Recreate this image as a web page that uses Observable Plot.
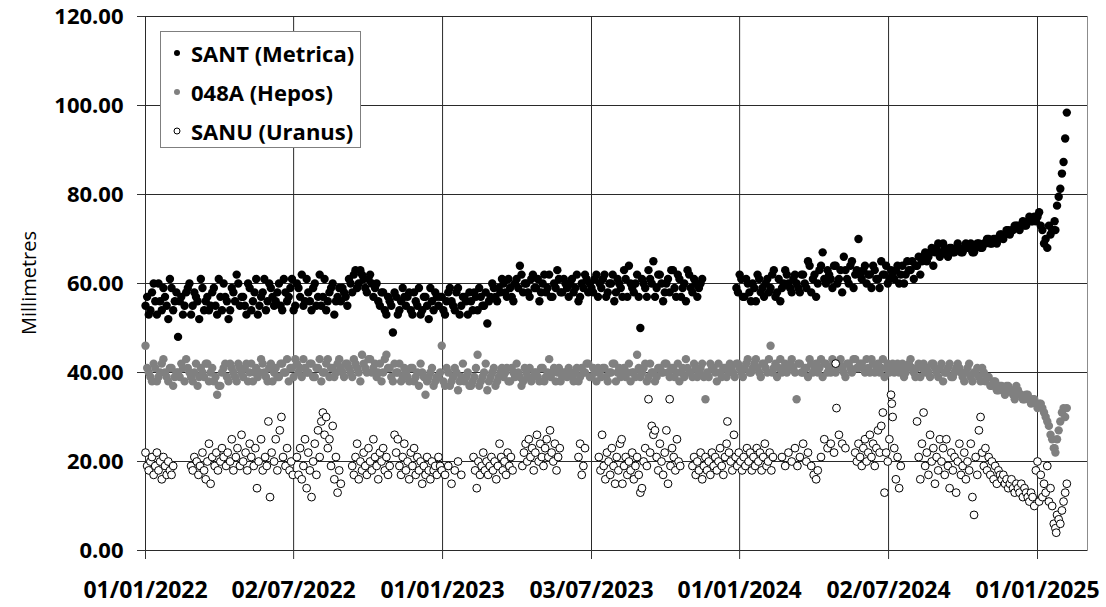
<!DOCTYPE html>
<html>
<head>
<meta charset="utf-8">
<script src="https://cdn.jsdelivr.net/npm/d3@7"></script>
<script src="https://cdn.jsdelivr.net/npm/@observablehq/plot@0.6"></script>
<style>
  html, body { margin: 0; padding: 0; background: #fff; }
  #wrap { position: relative; width: 1106px; height: 607px; font-family: 'Open Sans', sans-serif; }
  #ytitle { position: absolute; left: 28px; top: 283px; transform: translate(-50%, -50%) rotate(-90deg); font-size: 20px; white-space: nowrap; color: #000; }
  #legend { position: absolute; left: 160px; top: 31px; width: 201px; height: 117px; border: 1px solid #7f7f7f; background: #fff; box-sizing: border-box; }
  .lg { position: absolute; left: 0; height: 30px; display: flex; align-items: center; font-weight: bold; font-size: 22px; color: #000; white-space: nowrap; }
  .lg svg { margin-left: 10px; margin-right: 8px; }
</style>
</head>
<body>
<div id="wrap">
  <div id="chart"></div>
  <div id="ytitle">Millimetres</div>
  <div id="legend"></div>
</div>
<script>
// Day offsets from 01/01/2022 (first set of readings) shared by SANT and 048A
const days = [
  0,4,8,12,16,20,24,28,32,36,
  40,44,48,52,56,60,64,68,72,76,
  80,84,88,92,96,100,104,108,112,116,
  120,124,128,132,136,140,144,148,152,156,
  160,164,168,172,176,180,184,188,192,196,
  200,204,208,212,216,220,224,228,232,236,
  240,244,248,252,256,260,264,268,272,276,
  280,284,288,292,296,300,304,308,312,316,
  320,324,328,332,336,340,344,348,352,356,
  360,364,368,372,376,380,384,388,392,396,
  400,404,408,412,416,420,424,428,432,436,
  440,444,448,452,456,460,464,468,472,476,
  480,484,488,492,496,500,504,508,512,516,
  520,524,528,532,536,540,544,548,552,556,
  560,564,568,572,576,580,584,588,592,596,
  600,604,608,612,616,620,624,628,632,636,
  640,644,648,652,656,660,664,668,672,676,
  680,684,688,692,696,700,704,708,712,716,
  720,724,728,732,736,740,744,748,752,756,
  760,764,768,772,776,780,784,788,792,796,
  800,804,808,812,816,820,824,828,832,836,
  840,844,848,852,856,860,864,868,872,876,
  880,884,888,892,896,900,904,908,912,916,
  920,924,928,932,936,940,944,948,952,956,
  960,964,968,972,976,980,984,988,992,996,
  1000,1004,1008,1012,1016,1020,1024,1028,1032,1036,
  1040,1044,1048,1052,1056,1060,1064,1068,1072,1076,
  1080,1084,1088,1092,1096,1100,1104,1108,1112,1116,
  1118,1120,1122,1124,1126,1128,1130,1132
];

// Second set of reading days, in between the first set
const days2 = [
  2,6,10,14,18,22,26,30,34,38,
  42,46,50,54,58,62,66,70,74,78,
  82,86,90,94,98,102,106,110,114,118,
  122,126,130,134,138,142,146,150,154,158,
  162,166,170,174,178,182,186,190,194,198,
  202,206,210,214,218,222,226,230,234,238,
  242,246,250,254,258,262,266,270,274,278,
  282,286,290,294,298,302,306,310,314,318,
  322,326,330,334,338,342,346,350,354,358,
  362,366,370,374,378,382,386,390,394,398,
  402,406,410,414,418,422,426,430,434,438,
  442,446,450,454,458,462,466,470,474,478,
  482,486,490,494,498,502,506,510,514,518,
  522,526,530,534,538,542,546,550,554,558,
  562,566,570,574,578,582,586,590,594,598,
  602,606,610,614,618,622,626,630,634,638,
  642,646,650,654,658,662,666,670,674,678,
  682,686,690,694,698,702,706,710,714,718,
  722,726,730,734,738,742,746,750,754,758,
  762,766,770,774,778,782,786,790,794,798,
  802,806,810,814,818,822,826,830,834,838,
  842,846,850,854,858,862,866,870,874,878,
  882,886,890,894,898,902,906,910,914,918,
  922,926,930,934,938,942,946,950,954,958,
  962,966,970,974,978,982,986,990,994,998,
  1002,1006,1010,1014,1018,1022,1026,1030,1034,1038,
  1042,1046,1050,1054,1058,1062,1066,1070,1074,1078,
  1082,1086,1090,1094,1098,1102,1106,1110,1114,1117
];

// SANT (Metrica), millimetres, on `days`
const santValues = [
  55,53,58,56,60,54,57,52,59,56,
  48,57,55,59,53,58,56,61,54,57,
  55,59,53,57,60,56,54,58,62,55,
  57,53,59,56,61,55,58,54,60,57,
  56,60,54,58,57,61,55,59,62,56,
  58,54,60,57,55,61,56,59,53,57,
  56,58,55,60,62,59,63,61,58,62,
  57,60,55,58,53,56,49,57,54,59,
  55,58,53,56,59,54,57,52,56,58,
  55,57,53,58,56,54,59,55,57,53,
  56,58,54,57,55,51,57,59,56,58,
  60,57,59,56,61,64,58,60,57,62,
  59,56,60,58,62,57,59,61,58,60,
  57,61,59,56,60,62,58,59,61,57,
  59,62,58,60,56,61,59,63,57,60,
  58,62,50,60,57,61,65,59,62,56,
  60,58,63,57,61,59,56,62,58,60,
  59,61,null,null,null,null,null,null,null,null,
  null,null,58,61,57,60,56,59,62,58,
  57,61,59,63,58,56,60,62,59,61,
  60,58,62,59,64,61,57,63,67,60,
  62,59,64,61,58,63,60,65,62,70,
  61,64,62,59,63,61,65,62,60,63,
  61,64,62,60,65,63,61,64,62,66,
  65,67,64,68,66,69,67,68,67,68,
  68,67,69,68,67,68,69,68,69,70,
  69,70,70,71,71,72,72,73,73,73,
  73,74,74,75,75,73,69,68,71,72,
  72,77.5,79.5,81.3,84.7,87.3,92.6,98.4
];

// SANT (Metrica), millimetres, on `days2`
const santValues2 = [
  57,54,60,53,56,59,55,61,54,58,
  56,53,58,60,55,57,52,59,56,54,
  58,55,61,54,57,52,59,56,60,57,
  55,60,54,58,53,57,61,56,59,55,
  58,55,61,56,59,54,60,57,55,61,
  56,59,55,62,57,54,58,60,56,59,
  59,57,61,58,63,60,62,59,61,60,
  59,56,58,54,57,55,58,53,56,57,
  57,54,58,55,53,57,55,59,54,57,
  57,54,56,59,55,58,53,57,56,58,
  54,57,59,55,58,56,60,57,59,61,
  58,61,57,60,59,62,60,58,61,59,
  61,58,62,59,57,60,63,58,61,59,
  60,58,62,57,59,61,60,58,62,60,
  61,57,60,62,58,60,57,61,64,59,
  60,57,61,59,63,60,57,62,60,58,
  61,63,59,62,57,60,63,59,61,57,
  60,null,null,null,null,null,null,null,null,null,
  null,59,62,57,61,58,60,56,61,59,
  60,58,62,57,61,59,63,60,58,62,
  59,62,60,65,58,62,60,64,61,63,
  61,64,60,63,66,61,64,59,63,62,
  63,60,62,64,61,59,62,64,61,62,
  63,60,64,62,63,65,64,66,65,67,
  66,68,67,69,67,68,66,68,67,69,
  67,68,68,69,67,69,68,69,70,69,
  70,69,71,70,72,71,72,73,72,74,
  73,75,74,74,76,72,70,73,72,74
];

// 048A (Hepos), millimetres, on `days`
const hepValues = [
  46,40,38,41,39,42,40,38,41,39,
  40,42,38,41,39,40,37,41,39,42,
  40,38,35,37,41,39,42,40,38,41,
  39,42,40,38,41,40,42,39,41,38,
  41,39,42,40,38,41,43,40,39,41,
  40,42,39,41,38,40,43,41,39,42,
  41,39,42,40,43,41,38,42,40,43,
  41,39,42,40,44,41,38,40,42,39,
  40,38,41,39,37,40,35,39,41,38,
  39,46,37,40,38,41,36,39,38,40,
  37,39,44,38,40,36,39,41,38,40,
  39,41,38,40,42,39,38,40,41,39,
  40,38,41,39,43,40,38,41,39,40,
  41,39,40,38,41,40,42,39,40,41,
  39,41,38,40,42,40,39,41,40,38,
  40,44,39,41,38,42,40,39,41,40,
  42,39,41,40,38,41,43,40,39,41,
  40,42,34,39,41,40,42,39,41,40,
  41,39,42,40,41,43,40,42,41,39,
  42,40,46,41,39,43,41,40,42,41,
  34,42,40,41,43,40,42,41,39,42,
  41,43,40,42,41,39,42,40,43,41,
  42,40,41,43,40,42,41,39,42,41,
  40,42,41,39,41,43,40,41,39,42,
  41,39,42,40,41,38,40,42,39,41,
  41,39,40,42,38,40,39,41,38,39,
  37,38,36,37,35,37,36,34,36,35,
  34,35,33,34,32,33,31,29,26,23,
  22,25,27,29,31,32,30,32
];

// 048A (Hepos), millimetres, on `days2`
const hepValues2 = [
  41,39,42,38,40,43,39,41,37,40,
  39,41,43,40,38,42,39,40,42,38,
  41,39,37,40,42,38,41,39,42,40,
  41,38,42,40,39,43,40,38,42,40,
  39,42,40,43,41,39,42,41,43,40,
  42,39,41,43,40,42,39,41,40,43,
  40,42,41,39,42,40,44,41,43,40,
  42,40,38,43,41,39,42,40,38,41,
  39,41,38,40,42,39,38,40,37,39,
  40,38,41,37,39,40,38,42,39,37,
  38,41,37,39,42,38,40,37,39,41,
  40,38,41,39,40,37,41,39,38,40,
  39,41,38,40,39,41,40,38,40,39,
  40,38,41,39,40,42,39,41,38,40,
  41,39,40,42,38,41,40,39,42,40,
  39,41,40,42,39,40,38,41,40,42,
  40,41,39,42,40,39,41,40,42,39,
  41,39,40,42,41,38,40,41,39,42,
  40,42,41,39,42,40,41,43,40,42,
  41,43,40,42,41,40,42,41,43,40,
  42,40,41,39,42,41,40,43,42,40,
  40,42,41,43,40,42,41,43,41,42,
  41,43,40,42,41,40,43,41,40,42,
  41,40,42,40,42,41,39,42,41,40,
  40,42,41,39,42,40,41,39,40,42,
  40,38,41,39,40,41,38,40,39,37,
  38,36,37,36,37,36,35,37,35,34,
  35,34,34,33,33,32,30,28,25,23
];

// SANU (Uranus): [day offset from 01/01/2022, millimetres]
const sanuPoints = [
  [0,22],[2,19],[4,18],[6,20],[8,21],[10,17],[12,19],[14,22],[16,18],[18,20],[20,16],[22,21],[24,19],[26,17],[28,20],[30,18],[32,17],[34,19],
  [56,19],[58,18],[60,21],[63,20],[65,17],[67,19],[70,22],[72,18],[74,16],[76,20],[78,24],[80,15],[82,21],[85,19],[87,22],[89,18],[92,20],[94,23],[96,21],[99,19],[101,22],[104,20],[106,25],[108,18],[111,21],[113,23],[116,19],[118,26],[120,20],[123,22],[125,18],[128,24],[130,21],[133,19],[135,23],[137,14],[139,20],[142,25],[144,18],[147,21],[149,19],[151,29],[153,12],[155,22],[158,20],[160,25],[162,18],[165,27],[167,30],[169,21],[172,19],[174,23],[177,18],[179,20],[181,17],
  [186,21],[188,17],[190,23],[192,16],[194,19],[196,25],[198,14],[200,22],[202,18],[204,12],[206,20],[208,24],[210,17],[212,27],[214,21],[216,29],[218,31],[220,26],[222,30],[224,23],[226,25],[228,19],[230,28],[232,16],[234,21],[236,13],[238,18],[240,15],
  [254,19],[256,17],[258,21],[260,24],[262,16],[264,20],[266,18],[268,22],[270,19],[272,17],[274,23],[276,20],[278,18],[280,25],[282,21],[284,19],[286,16],[288,22],[290,20],[292,23],[294,18],[296,21],[298,17],[300,19],
  [306,26],[308,22],[310,25],[312,19],[314,17],[316,21],[318,24],[320,18],[322,20],[324,16],[326,22],[328,19],[330,23],[332,17],[334,21],[336,18],[338,20],[340,15],[342,19],[344,17],[346,21],[348,18],[350,16],[352,20],[354,18],[356,19],[358,17],[360,21],[362,19],[364,18],
  [368,17],[372,19],[376,15],[380,18],[384,20],[388,17],[403,21],[405,18],[407,14],[409,20],[411,17],[413,19],[415,22],[417,18],[419,20],[421,17],[423,19],[425,21],[427,18],[429,20],[431,16],[433,19],[435,24],[437,21],[439,18],[441,20],[443,17],[445,22],[447,19],[449,21],[451,18],
  [463,19],[465,22],[467,24],[469,20],[471,25],[473,21],[475,23],[477,18],[479,22],[481,26],[483,20],[485,24],[487,21],[489,19],[491,23],[493,25],[495,21],[497,27],[499,22],[501,20],[503,24],[505,18],[507,21],[509,23],
  [532,21],[534,24],[536,17],[538,19],[540,23],
  [557,21],[559,18],[561,26],[563,19],[565,16],[567,22],[569,20],[571,17],[573,23],[575,19],[577,15],[579,21],[581,18],[583,24],
  [585,25],[586,15],[588,19],[590,21],[592,17],[594,20],[596,18],[598,22],[600,16],[602,19],[604,21],[606,17],[608,13],[610,14],[612,20],[614,23],[616,19],[618,34],[620,22],[622,28],[624,26],[626,27],[628,21],[630,18],[632,24],[634,20],[636,17],[638,22],[640,27],[642,15],[644,34],[645,19],[647,23],[649,21],[651,18],[653,25],[655,20],[657,19],
  [672,19],[674,21],[676,17],[678,20],[680,18],[682,22],[684,16],[686,19],[688,21],[690,18],[692,20],[694,17],[696,22],[698,19],[700,21],[702,18],[704,20],[706,23],[708,19],[710,17],[712,21],[714,24],[715,29],[717,22],[719,20],[721,18],[723,26],[725,21],[727,19],[729,22],[731,20],[733,18],[735,21],[737,19],[739,23],[741,20],[743,22],[745,18],[747,21],[749,19],[751,23],[753,20],[755,22],[757,18],[759,21],[761,24],[763,19],[765,20],[767,22],[769,18],[771,21],
  [782,21],[786,19],[790,22],[794,20],[798,23],[801,19],[804,21],[808,24],[812,20],[814,22],[818,19],[821,17],[824,16],[826,18],[830,21],[834,25],[838,23],[842,24],[846,22],[848,42],[849,32],[852,26],[856,24],[860,23],
  [872,22],[874,20],[876,24],[878,21],[880,19],[882,23],[884,25],[886,20],[888,22],[890,26],[892,21],[894,24],[896,19],[898,23],[900,27],[902,22],
  [904,28],[906,31],[908,13],[910,22],[912,20],[914,25],[916,35],[917,33],[918,30],[920,23],[922,16],[924,21],[926,14],[928,19],
  [948,29],[950,21],[952,16],[954,24],[956,31],[958,19],[960,22],[962,17],[964,26],[966,20],[968,23],[970,15],[972,21],[974,18],[976,25],
  [978,20],[980,23],[982,17],[984,25],[986,19],[988,14],[990,22],[992,18],[994,21],[996,13],[998,20],[1000,24],[1002,17],[1004,19],[1006,22],[1008,16],[1010,20],[1012,18],[1014,24],[1016,12],[1018,8],[1020,21],[1022,17],[1024,27],[1026,30],[1028,22],[1030,19],[1032,23],[1034,18],[1036,21],[1038,17],[1040,20],[1042,16],[1044,19],[1046,15],[1048,18],[1050,17],
  [1052,16],[1054,17],[1056,15],[1058,16],[1060,14],[1062,15],[1064,16],[1066,14],[1068,13],[1070,15],[1072,14],[1074,13],[1076,15],[1078,12],[1080,14],[1082,13],[1084,12],[1086,11],[1088,13],[1090,12],[1092,10],[1094,18],[1096,20],[1098,11],
  [1100,17],[1102,12],[1104,15],[1106,13],[1108,19],[1110,11],[1112,14],[1114,10],[1116,6],[1118,5],[1119,4],[1120,8],[1122,7],[1124,6],[1126,9],[1128,11],[1130,13],[1132,15]
];

const seriesNames = ["SANT (Metrica)", "048A (Hepos)", "SANU (Uranus)"];
const xTickDates = ["2022-01-01","2022-07-02","2023-01-01","2023-07-03","2024-01-01","2024-07-02","2025-01-01"];
const xTickLabels = ["01/01/2022","02/07/2022","01/01/2023","03/07/2023","01/01/2024","02/07/2024","01/01/2025"];
const yTicks = [0, 20, 40, 60, 80, 100, 120];
const xDomain = ["2022-01-01", "2025-03-03T10:00"];

const DAY0 = Date.UTC(2022, 0, 1);
const toDate = d => new Date(DAY0 + d * 86400000);
const rows = (ds, vs) => ds.map((d, i) => ({date: toDate(d), value: vs[i]})).filter(r => r.value != null);

const santData = rows(days, santValues).concat(rows(days2, santValues2));
const hepData = rows(days, hepValues).concat(rows(days2, hepValues2));
const sanuData = sanuPoints.map(([d, v]) => ({date: toDate(d), value: v}));

const tickDates = xTickDates.map(s => new Date(s + "T00:00Z"));
const labelMap = new Map(tickDates.map((d, i) => [+d, xTickLabels[i]]));

const chart = Plot.plot({
  width: 1106,
  height: 607,
  marginLeft: 145,
  marginRight: 19,
  marginTop: 16,
  marginBottom: 57,
  x: {type: "utc", domain: xDomain.map(s => new Date(s.includes("T") ? s + "Z" : s + "T00:00Z"))},
  y: {domain: [0, 120]},
  style: {fontFamily: "'Open Sans', sans-serif", background: "#fff", color: "#000", overflow: "visible"},
  marks: [
    Plot.frame({stroke: "#8c8c8c"}),
    Plot.gridY(yTicks, {stroke: "#2a2a2a", strokeOpacity: 1}),
    Plot.gridX(tickDates, {stroke: "#2a2a2a", strokeOpacity: 1}),
    Plot.axisY(yTicks, {tickSize: 8, tickPadding: 14, tickFormat: d => d.toFixed(2), fontSize: 22, fontWeight: "bold", label: null, stroke: "#333"}),
    Plot.axisX(tickDates, {tickSize: 9, tickPadding: 22, tickFormat: d => labelMap.get(+d), fontSize: 23, fontWeight: "bold", label: null, stroke: "#333"}),
    Plot.dot(santData, {x: "date", y: "value", r: 4.2, fill: "#000", stroke: "none"}),
    Plot.dot(hepData, {x: "date", y: "value", r: 4.2, fill: "#808080", stroke: "none"}),
    Plot.dot(sanuData, {x: "date", y: "value", r: 3.9, fill: "#fff", stroke: "#000", strokeWidth: 1})
  ]
});
document.getElementById("chart").appendChild(chart);

// Legend
const legendStyles = [
  {fill: "#000", stroke: "none"},
  {fill: "#808080", stroke: "none"},
  {fill: "#fff", stroke: "#000"}
];
const legend = document.getElementById("legend");
seriesNames.forEach((name, i) => {
  const row = document.createElement("div");
  row.className = "lg";
  row.style.top = (6 + i * 39) + "px";
  const s = legendStyles[i];
  row.innerHTML = `<svg width="12" height="12"><circle cx="6" cy="6" r="3" fill="${s.fill}" stroke="${s.stroke}" stroke-width="1"/></svg><span>${name}</span>`;
  legend.appendChild(row);
});
</script>
</body>
</html>
